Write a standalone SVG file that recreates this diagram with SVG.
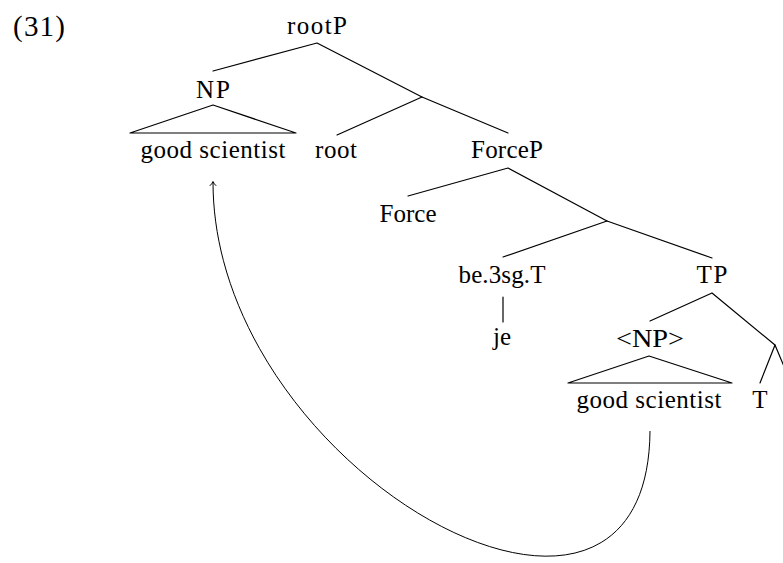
<svg xmlns="http://www.w3.org/2000/svg" width="783" height="563" viewBox="0 0 783 563">
<style>
.t{font-family:'Liberation Serif','DejaVu Serif',serif;font-size:25px;fill:#000;}
.c{text-anchor:middle;}
.e{fill:none;stroke:#000;stroke-width:1.2;stroke-linecap:round;stroke-linejoin:round;}
.m{fill:none;stroke:#000;stroke-width:1;}
</style>
<rect width="783" height="563" fill="#fff"/>
<g font-family="Liberation Serif, serif" font-size="25">
<text class="t" x="13" y="36" style="font-size:29px" textLength="52">(31)</text>
<g id="connectors">
<path class="e" d="M317,43 L213,71 M317,43 L422,97"/>
<path class="e" d="M422,97 L337,135 M422,97 L508,133"/>
<path class="e" d="M213,105 L130,133 L296,133 Z"/>
<path class="e" d="M508,168 L408,196 M508,168 L607,221"/>
<path class="e" d="M607,221 L503,257 M607,221 L712,258"/>
<path class="e" d="M503,297 L503,322"/>
<path class="e" d="M712,293 L650,321 M712,293 L775,345"/>
<path class="e" d="M649,356 L568,383 L732,383 Z"/>
<path class="e" d="M775,345 L760,383 M775,345 L791,383"/>
<path class="m" d="M650,431 C648,712 213,472 213,182"/>
<path class="m" d="M209.8,185.8 Q212,184 213,181.5 Q214,184 216.2,185.8"/>
</g>
<g id="rootP"><text class="t c" x="317" y="34" textLength="60">rootP</text></g>
<g id="NP"><text class="t c" x="213" y="98" textLength="34">NP</text></g>
<g id="good-scientist-1"><text class="t c" x="213" y="158" textLength="145">good scientist</text></g>
<g id="root"><text class="t c" x="336" y="158" textLength="42">root</text></g>
<g id="ForceP"><text class="t c" x="507" y="158" textLength="72">ForceP</text></g>
<g id="Force"><text class="t c" x="408" y="222" textLength="57">Force</text></g>
<g id="be3sgT"><text class="t c" x="502" y="283" textLength="87">be.3sg.T</text></g>
<g id="TP"><text class="t c" x="712" y="283" textLength="31">TP</text></g>
<g id="je"><text class="t c" x="502" y="345">je</text></g>
<g id="NP-trace"><text class="t c" x="650" y="347" textLength="68" lengthAdjust="spacingAndGlyphs">&lt;NP&gt;</text></g>
<g id="good-scientist-2"><text class="t c" x="649" y="408" textLength="145">good scientist</text></g>
<g id="T"><text class="t c" x="760" y="408">T</text></g>
</g>
</svg>
